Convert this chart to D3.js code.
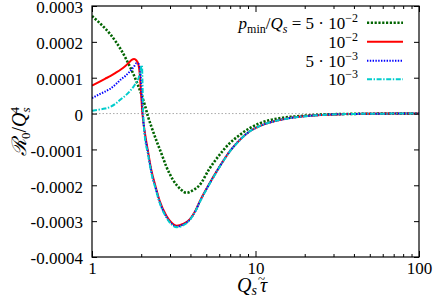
<!DOCTYPE html>
<html>
<head>
<meta charset="utf-8">
<title>R0 over Qs tau</title>
<style>
  body { margin: 0; background: #fff; }
  svg text { font-family: 'Liberation Serif', 'DejaVu Serif', serif; fill: #000; }
</style>
</head>
<body>
<svg width="436" height="301"></svg>
<script src="https://d3js.org/d3.v7.min.js"></script>
<script>
// values are in units of 1e-4
const tauGreen = [1, 1.1, 1.2, 1.3, 1.4, 1.5, 1.6, 1.7, 1.8, 1.9, 2.0, 2.1, 2.2, 2.31, 2.48, 2.66, 2.85, 3.13, 3.52, 3.78, 4.1, 4.56, 5.24, 6.03, 6.94, 7.99, 9.19, 10.6, 14, 18.6, 25, 35, 50, 70, 100]
const valGreen = [2.72, 2.55, 2.38, 2.2, 2.0, 1.79, 1.56, 1.32, 1.08, 0.82, 0.55, 0.25, -0.08, -0.37, -0.76, -1.12, -1.48, -1.85, -2.13, -2.21, -2.15, -1.99, -1.53, -1.15, -0.83, -0.60, -0.41, -0.27, -0.13, -0.07, -0.03, -0.012, -0.004, -0.001, 0]

const tauRed = [1, 1.1, 1.2, 1.3, 1.4, 1.5, 1.6, 1.68, 1.75, 1.81, 1.87, 1.92, 1.96, 2.0, 2.03, 2.1, 2.2, 2.3, 2.45, 2.6, 2.85, 3.05, 3.3, 3.6, 3.96, 4.3, 4.56, 5.24, 6.03, 6.94, 7.99, 9.19, 10.6, 14, 18.6, 25, 35, 50, 70, 100]
const valRed = [0.78, 0.88, 0.97, 1.05, 1.14, 1.23, 1.33, 1.42, 1.5, 1.52, 1.48, 1.38, 1.1, 0.5, 0.05, -0.5, -1.05, -1.55, -2.04, -2.45, -2.85, -3.03, -3.13, -3.08, -2.95, -2.7, -2.45, -1.94, -1.48, -1.06, -0.74, -0.50, -0.35, -0.18, -0.09, -0.04, -0.015, -0.005, -0.001, 0]

const tauBlue = [1, 1.1, 1.2, 1.3, 1.4, 1.5, 1.6, 1.7, 1.8, 1.87, 1.93, 1.97, 2.0, 2.03, 2.06, 2.1, 2.2, 2.3, 2.45, 2.6, 2.85, 3.05, 3.3, 3.6, 3.96, 4.3, 4.56, 5.24, 6.03, 6.94, 7.99, 9.19, 10.6, 14, 18.6, 25, 35, 50, 70, 100]
const valBlue = [0.43, 0.53, 0.61, 0.70, 0.82, 0.95, 1.05, 1.17, 1.30, 1.40, 1.38, 1.2, 0.8, 0.2, -0.2, -0.55, -1.1, -1.6, -2.08, -2.48, -2.88, -3.06, -3.15, -3.1, -2.96, -2.71, -2.46, -1.95, -1.48, -1.06, -0.74, -0.50, -0.35, -0.18, -0.09, -0.04, -0.015, -0.005, -0.001, 0]

const tauCyan = [1, 1.1, 1.2, 1.3, 1.4, 1.5, 1.6, 1.7, 1.8, 1.87, 1.93, 1.97, 2.0, 2.02, 2.035, 2.05, 2.07, 2.1, 2.2, 2.3, 2.45, 2.6, 2.85, 3.05, 3.3, 3.6, 3.96, 4.3, 4.56, 5.24, 6.03, 6.94, 7.99, 9.19, 10.6, 14, 18.6, 25, 35, 50, 70, 100]
const valCyan = [0.08, 0.11, 0.14, 0.19, 0.28, 0.40, 0.50, 0.62, 0.76, 0.87, 1.0, 1.15, 1.3, 1.35, 0.9, 0.2, -0.25, -0.6, -1.13, -1.63, -2.1, -2.5, -2.9, -3.08, -3.17, -3.12, -2.97, -2.72, -2.47, -1.96, -1.49, -1.07, -0.75, -0.50, -0.35, -0.18, -0.09, -0.04, -0.015, -0.005, -0.001, 0]

const yTicks = [-4, -3, -2, -1, 0, 1, 2, 3]
const yTickLabels = ["-0.0004", "-0.0003", "-0.0002", "-0.0001", "0", "0.0001", "0.0002", "0.0003"]
const xTicks = [1, 10, 100]
const xTickLabels = ["1", "10", "100"]
const xMinor = [2, 3, 4, 5, 6, 7, 8, 9, 20, 30, 40, 50, 60, 70, 80, 90]
const legendText = [["5 · 10", "−2"], ["10", "−2"], ["5 · 10", "−3"], ["10", "−3"]]

const series = [
    {tau: tauGreen, val: valGreen, color: "#006400", width: 2.6, dash: "2.2,1.6"},
    {tau: tauRed, val: valRed, color: "#ff0000", width: 2, dash: null},
    {tau: tauBlue, val: valBlue, color: "#0000ff", width: 2, dash: "1.4,1.4"},
    {tau: tauCyan, val: valCyan, color: "#00cccc", width: 2, dash: "5,1.6,1.4,1.6"}
]

const margin = {top: 6, right: 17, bottom: 44, left: 92}
const width = 436, height = 301
const serif = "'Liberation Serif', 'DejaVu Serif', serif"

const x = d3.scaleLog().domain([1, 100]).range([margin.left, width - margin.right])
const y = d3.scaleLinear().domain([-4, 3]).range([height - margin.bottom, margin.top])

const svg = d3.select("svg")

svg.append("clipPath").attr("id", "clip")
    .append("rect")
    .attr("x", x(1)).attr("y", y(3))
    .attr("width", x(100) - x(1)).attr("height", y(-4) - y(3))

// zero line
svg.append("line")
    .attr("x1", x(1)).attr("x2", x(100))
    .attr("y1", y(0)).attr("y2", y(0))
    .attr("stroke", "#aaaaaa").attr("stroke-width", 1)
    .attr("stroke-dasharray", "1.5,2")

const line = d3.line()
    .x(d => x(d[0]))
    .y(d => y(d[1]))
    .curve(d3.curveMonotoneX)

const plot = svg.append("g").attr("clip-path", "url(#clip)")
series.forEach(s => {
    plot.append("path")
        .datum(s.tau.map((t, i) => [t, s.val[i]]))
        .attr("fill", "none")
        .attr("stroke", s.color)
        .attr("stroke-width", s.width)
        .attr("stroke-dasharray", s.dash)
        .attr("d", line)
})

// axes
const fontSize = 17
const styleAxis = g => {
    g.attr("font-family", null)
    g.select(".domain").remove()
    g.selectAll("line").attr("stroke", "#000")
    g.selectAll("text").attr("font-size", fontSize).style("font-family", serif)
}

svg.append("g")
    .attr("transform", `translate(${x(1)},0)`)
    .call(d3.axisLeft(y).tickValues(yTicks).tickSize(-5).tickPadding(9)
        .tickFormat((d, i) => yTickLabels[i]))
    .call(styleAxis)
    .selectAll("text").attr("dy", "0.4em")

svg.append("g")
    .attr("transform", `translate(${x(100)},0)`)
    .call(d3.axisRight(y).tickValues(yTicks).tickSize(-5).tickFormat(""))
    .call(styleAxis)

svg.append("g")
    .attr("transform", `translate(0,${y(-4)})`)
    .call(d3.axisBottom(x).tickValues(xTicks).tickSize(-6).tickPadding(5)
        .tickFormat((d, i) => xTickLabels[i]))
    .call(styleAxis)
    .selectAll("text").attr("dy", "0.72em")

svg.append("g")
    .attr("transform", `translate(0,${y(-4)})`)
    .call(d3.axisBottom(x).tickValues(xMinor).tickSize(-3).tickFormat(""))
    .call(styleAxis)

svg.append("g")
    .attr("transform", `translate(0,${y(3)})`)
    .call(d3.axisTop(x).tickValues(xTicks).tickSize(-6).tickFormat(""))
    .call(styleAxis)

svg.append("g")
    .attr("transform", `translate(0,${y(3)})`)
    .call(d3.axisTop(x).tickValues(xMinor).tickSize(-3).tickFormat(""))
    .call(styleAxis)

// frame
svg.append("rect")
    .attr("x", x(1)).attr("y", y(3))
    .attr("width", x(100) - x(1)).attr("height", y(-4) - y(3))
    .attr("fill", "none").attr("stroke", "#000").attr("stroke-width", 1.2)

// axis titles
const xt = svg.append("text")
    .attr("x", 237).attr("y", 292)
    .attr("font-size", 20).style("font-family", serif)
xt.append("tspan").attr("font-style", "italic").text("Q")
xt.append("tspan").attr("font-style", "italic").attr("font-size", 14).attr("dy", 3).text("s")
xt.append("tspan").attr("font-style", "italic").attr("dy", -3).attr("dx", 3).text("τ")
xt.append("tspan").attr("dx", -9).attr("dy", -9).attr("font-size", 13).text("~")

const yt = svg.append("text")
    .attr("transform", `translate(26,${(y(3) + y(-4)) / 2}) rotate(-90)`)
    .attr("text-anchor", "middle").attr("font-size", 20).style("font-family", serif)
yt.append("tspan").attr("font-style", "italic").text("ℛ")
yt.append("tspan").attr("font-size", 13).attr("dy", 4).text("0")
yt.append("tspan").attr("dy", -4).text("/")
yt.append("tspan").attr("font-style", "italic").text("Q")
yt.append("tspan").attr("font-style", "italic").attr("font-size", 13).attr("dy", 4).text("s")
yt.append("tspan").attr("font-size", 13).attr("dy", -11).attr("dx", -6).text("4")

// legend
const legY = [22.7, 41.7, 60.7, 79.3]
const leg = svg.append("g")
series.forEach((s, i) => {
    const t = leg.append("text")
        .attr("x", 358).attr("y", legY[i] + 6)
        .attr("text-anchor", "end").attr("font-size", fontSize).style("font-family", serif)
    if (i === 0) {
        t.append("tspan").attr("font-style", "italic").text("p")
        t.append("tspan").attr("font-size", 12).attr("dy", 4).text("min")
        t.append("tspan").attr("dy", -4).text("/")
        t.append("tspan").attr("font-style", "italic").text("Q")
        t.append("tspan").attr("font-style", "italic").attr("font-size", 12).attr("dy", 4).text("s")
        t.append("tspan").attr("dy", -4).text(" = ")
    }
    t.append("tspan").text(legendText[i][0])
    t.append("tspan").attr("font-size", 12).attr("dy", -7).text(legendText[i][1])

    leg.append("line")
        .attr("x1", 367).attr("x2", 403)
        .attr("y1", legY[i]).attr("y2", legY[i])
        .attr("stroke", s.color)
        .attr("stroke-width", s.width)
        .attr("stroke-dasharray", s.dash)
})
</script>
</body>
</html>
